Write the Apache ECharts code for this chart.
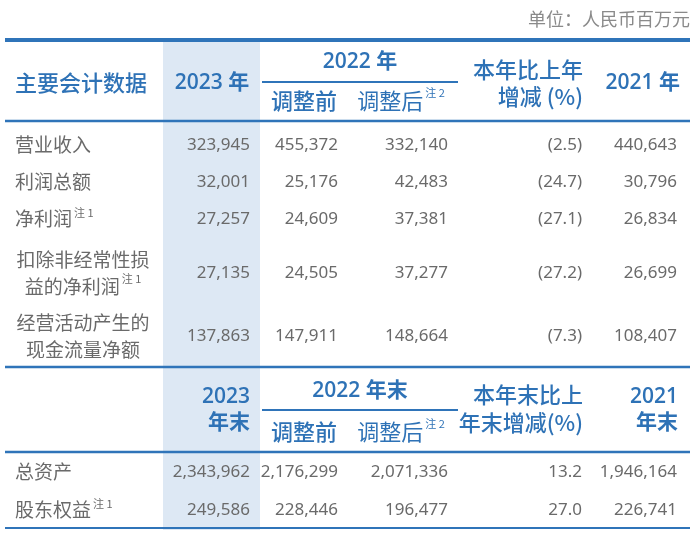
<!DOCTYPE html>
<html><head><meta charset="utf-8">
<script src="https://cdn.jsdelivr.net/npm/echarts@6/dist/echarts.min.js"></script>
<style>html,body{margin:0;padding:0;background:#fff}#main{width:700px;height:533px}</style>
</head><body><div id="main"></div>
<script>
// ---------- data ----------
const unitText = '单位：人民币百万元';
const flowTitle = '主要会计数据';
const yearCur = '2023 年';
const yearPrev = '2022 年';
const subBefore = '调整前';
const subAfter = '调整后';
const subAfterNote = '注 2';
const flowChangeHead = ['本年比上年', '增减 (%)'];
const yearOld = '2021 年';

const flowItems = [['营业收入'], ['利润总额'], ['净利润'], ['扣除非经常性损', '益的净利润'], ['经营活动产生的', '现金流量净额']];
const flowNotes = ['', '', '注 1', '注 1', ''];
const flow2023 = [323945, 32001, 27257, 27135, 137863];
const flow2022Before = [455372, 25176, 24609, 24505, 147911];
const flow2022After = [332140, 42483, 37381, 37277, 148664];
const flowChange = [-2.5, -24.7, -27.1, -27.2, -7.3];
const flow2021 = [440643, 30796, 26834, 26699, 108407];

const balYearCur = ['2023', '年末'];
const balYearPrev = '2022 年末';
const balChangeHead = ['本年末比上', '年末增减(%)'];
const balYearOld = ['2021', '年末'];
const balItems = [['总资产'], ['股东权益']];
const balNotes = ['', '注 1'];
const bal2023 = [2343962, 249586];
const bal2022Before = [2176299, 228446];
const bal2022After = [2071336, 196477];
const balChange = [13.2, 27.0];
const bal2021 = [1946164, 226741];

// ---------- layout ----------
const BLUE = '#2e72b6', LINE = '#2f74b9', GREY = '#6a6a6a', COLBG = '#dde8f4';
const CJK = '"Noto Sans CJK SC", sans-serif';
const NUM = '"Noto Sans", "Noto Sans CJK SC", sans-serif';
const HNUM = '"Open Sans", "Noto Sans CJK SC", sans-serif';
const colRight = [250, 338, 448, 582, 677];
const flowRowY = [145, 182, 219, 273, 336];
const balRowY = [472, 510];

const fmt = v => v.toLocaleString('en-US');
const fmtPct = v => v < 0 ? '(' + Math.abs(v).toFixed(1) + ')' : v.toFixed(1);

const g = [];
function text(x, y, t, o) {
  g.push({ type: 'text', x: x, y: y, z: 10, style: Object.assign({
    text: t, fill: GREY, fontSize: 18, fontFamily: CJK, align: 'left', verticalAlign: 'middle'
  }, o || {}) });
}
function line(x1, y1, x2, y2, w) {
  g.push({ type: 'line', z: 5, shape: { x1: x1, y1: y1, x2: x2, y2: y2 }, style: { stroke: LINE, lineWidth: w } });
}
const noteRich = (size, lh, color) => ({
  t: { fontSize: size, fontFamily: CJK, fill: color, lineHeight: lh },
  s: { fontSize: 11, fontFamily: CJK, fill: color, verticalAlign: 'top', lineHeight: 14, padding: [0, 0, 0, 2] }
});
function labelText(lines, note) {
  return lines.map((l, i) => '{t|' + l + '}' + (i === lines.length - 1 && note ? '{s|' + note + '}' : '')).join('\n');
}

// column background
g.push({ type: 'rect', z: 1, shape: { x: 163, y: 41, width: 97, height: 489 }, style: { fill: COLBG } });

// unit
text(690, 19, unitText, { align: 'right', fontSize: 18, fill: '#8a8a8a' });

// lines
line(5, 40, 690, 40, 4);
line(5, 121, 690, 121, 2.5);
line(262, 82, 458, 82, 2);
line(5, 367, 690, 367, 2.5);
line(262, 410, 458, 410, 2);
line(5, 452, 690, 452, 2.5);
line(5, 528, 690, 528, 2);

// header section 1
const H = { fill: BLUE, fontSize: 22, fontWeight: 500 };
const HY = Object.assign({}, H, { fontFamily: HNUM, fontWeight: 600, fontSize: 21 });
text(15, 83, flowTitle, H);
text(212, 83, yearCur, Object.assign({}, HY, { align: 'center' }));
text(360, 62, yearPrev, Object.assign({}, HY, { align: 'center' }));
text(304, 101, subBefore, Object.assign({}, H, { align: 'center' }));
text(401, 101, '{t|' + subAfter + '}{s|' + subAfterNote + '}', Object.assign({}, H, { align: 'center', rich: noteRich(22, 28, BLUE) }));
text(583, 83, flowChangeHead.join('\n'), Object.assign({}, H, { align: 'right', lineHeight: 27 }));
text(680, 83, yearOld, Object.assign({}, HY, { align: 'right' }));

// header section 2
const HB = Object.assign({}, HY, { lineHeight: 26, align: 'right' });
text(250, 410, balYearCur.join('\n'), HB);
text(360, 391, balYearPrev, Object.assign({}, HY, { align: 'center' }));
text(304, 432, subBefore, Object.assign({}, H, { align: 'center' }));
text(401, 432, '{t|' + subAfter + '}{s|' + subAfterNote + '}', Object.assign({}, H, { align: 'center', rich: noteRich(22, 28, BLUE) }));
text(583, 409, balChangeHead.join('\n'), Object.assign({}, H, { align: 'right', lineHeight: 28 }));
text(678, 410, balYearOld.join('\n'), HB);

// rows
function rows(items, notes, cols, ys) {
  items.forEach((lines, i) => {
    const multi = lines.length > 1;
    text(multi ? 83 : 15, ys[i], labelText(lines, notes[i]), {
      align: multi ? 'center' : 'left', rich: noteRich(19, multi ? 27 : 24, GREY)
    });
    cols.forEach((arr, c) => {
      text(colRight[c], ys[i], c === 3 ? fmtPct(arr[i]) : fmt(arr[i]), { align: 'right', fontFamily: NUM, fontSize: 17 });
    });
  });
}
rows(flowItems, flowNotes, [flow2023, flow2022Before, flow2022After, flowChange, flow2021], flowRowY);
rows(balItems, balNotes, [bal2023, bal2022Before, bal2022After, balChange, bal2021], balRowY);

const chart = echarts.init(document.getElementById('main'), null, { renderer: 'canvas', width: 700, height: 533 });
chart.setOption({ animation: false, backgroundColor: '#ffffff', graphic: { elements: g } });
</script>
</body></html>
